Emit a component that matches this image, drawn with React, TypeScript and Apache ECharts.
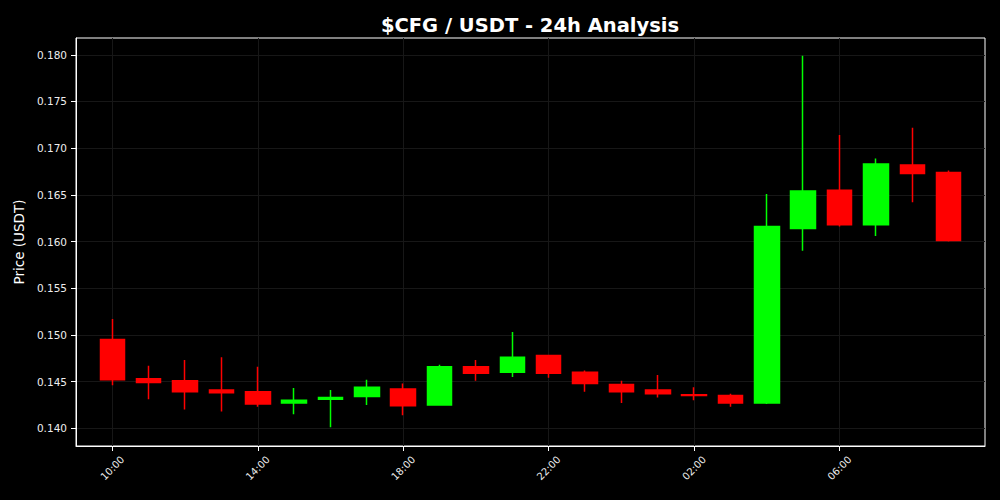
import React, { useEffect, useRef } from "react";
import * as echarts from "echarts";

const hours = [
  "10:00", "11:00", "12:00", "13:00", "14:00", "15:00", "16:00", "17:00",
  "18:00", "19:00", "20:00", "21:00", "22:00", "23:00", "00:00", "01:00",
  "02:00", "03:00", "04:00", "05:00", "06:00", "07:00", "08:00", "09:00",
];
const opens = [
  0.1495, 0.1453, 0.1451, 0.1441, 0.1439, 0.1427, 0.1431, 0.1434,
  0.1442, 0.1425, 0.1466, 0.1460, 0.1478, 0.1460, 0.1447, 0.1441,
  0.1436, 0.1435, 0.1427, 0.1614, 0.1655, 0.1618, 0.1682, 0.1674,
];
const closes = [
  0.1452, 0.1449, 0.1439, 0.1438, 0.1426, 0.1430, 0.1433, 0.1444,
  0.1424, 0.1466, 0.1459, 0.1476, 0.1459, 0.1448, 0.1439, 0.1437,
  0.1435, 0.1427, 0.1616, 0.1654, 0.1618, 0.1683, 0.1673, 0.1601,
];
const lows = [
  0.1446, 0.1431, 0.1420, 0.1418, 0.1423, 0.1415, 0.1401, 0.1425,
  0.1414, 0.1425, 0.1451, 0.1455, 0.1454, 0.1439, 0.1427, 0.1433,
  0.1430, 0.1423, 0.1426, 0.1590, 0.1616, 0.1606, 0.1642, 0.1600,
];
const highs = [
  0.1517, 0.1467, 0.1473, 0.1476, 0.1466, 0.1443, 0.1441, 0.1452,
  0.1448, 0.1468, 0.1473, 0.1503, 0.1478, 0.1462, 0.1451, 0.1457,
  0.1444, 0.1437, 0.1651, 0.1799, 0.1714, 0.1689, 0.1722, 0.1676,
];
const yTicks = [0.14, 0.145, 0.15, 0.155, 0.16, 0.165, 0.17, 0.175, 0.18];
const xTickHours = ["10:00", "14:00", "18:00", "22:00", "02:00", "06:00"];

const titleText = "$CFG / USDT - 24h Analysis";
const yName = "Price (USDT)";

export default function App() {
  const ref = useRef<HTMLDivElement>(null);
  useEffect(() => {
    if (!ref.current) return;
    const chart = echarts.init(ref.current, undefined, { renderer: "svg" });
    const categories = [" ", ...hours, "  "];
    const candles: any[] = ["-"];
    hours.forEach((_, i) => {
      candles.push([opens[i], closes[i], lows[i], highs[i]]);
    });
    candles.push("-");
    const isTick = (_i: number, v: string) => xTickHours.includes(v);
    const font = "DejaVu Sans";
    const gridColor = "#171717";
    chart.setOption({
      animation: false,
      backgroundColor: "#000000",
      title: {
        text: titleText,
        left: 525,
        textAlign: "center",
        top: 10,
        textStyle: { color: "#ffffff", fontFamily: font, fontWeight: "bold", fontSize: 19.5 },
      },
      grid: {
        left: 76,
        right: 15,
        top: 38,
        bottom: 54,
        show: true,
        borderColor: "#ffffff",
        borderWidth: 1,
        backgroundColor: "#000000",
      },
      xAxis: {
        type: "category",
        data: categories,
        boundaryGap: false,
        axisLine: { lineStyle: { color: "#ffffff", width: 1 } },
        axisTick: { show: true, interval: isTick, length: 5, lineStyle: { color: "#ffffff" } },
        axisLabel: {
          interval: isTick,
          rotate: 45,
          align: "center",
          verticalAlign: "middle",
          margin: 22,
          color: "#eeeeee",
          fontFamily: font,
          fontSize: 10,
        },
        splitLine: { show: true, interval: isTick, lineStyle: { color: gridColor, width: 1 } },
      },
      yAxis: {
        type: "value",
        min: 0.1381,
        max: 0.1818,
        name: yName,
        nameLocation: "middle",
        nameGap: 49,
        nameTextStyle: { color: "#ffffff", fontFamily: font, fontSize: 13.5 },
        axisLine: { show: true, lineStyle: { color: "#ffffff", width: 1 } },
        axisTick: { show: true, length: 5, customValues: yTicks, lineStyle: { color: "#ffffff" } },
        axisLabel: {
          customValues: yTicks,
          formatter: (v: number) => v.toFixed(3),
          color: "#eeeeee",
          fontFamily: font,
          fontSize: 10.5,
          margin: 9,
        },
        splitLine: { show: true, lineStyle: { color: gridColor, width: 1 } },
      },
      series: [
        {
          type: "candlestick",
          data: candles,
          barWidth: 25,
          itemStyle: {
            color: "#00ff00",
            color0: "#ff0000",
            borderColor: "#00ff00",
            borderColor0: "#ff0000",
            borderWidth: 1.5,
          },
        },
      ],
    });
    return () => chart.dispose();
  }, []);
  return (
    <div
      ref={ref}
      style={{ position: "absolute", left: 0, top: 0, width: 1000, height: 500 }}
    />
  );
}
